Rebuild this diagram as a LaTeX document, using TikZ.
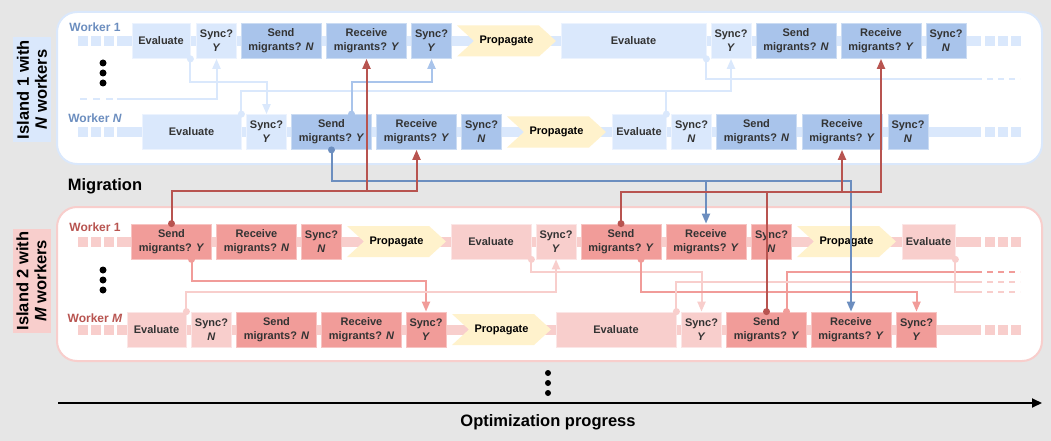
\documentclass[tikz,border=0pt]{standalone}
\usepackage{fontspec}
\setmainfont{Liberation Sans}
\usetikzlibrary{arrows.meta}

\definecolor{bggray}{HTML}{E6E6E6}
\definecolor{bluelt}{HTML}{DAE8FC}
\definecolor{bluemd}{HTML}{A9C4EB}
\definecolor{bluedk}{HTML}{6C8EBF}
\definecolor{pinklt}{HTML}{F8CECC}
\definecolor{pinkmd}{HTML}{F19C99}
\definecolor{reddk}{HTML}{B85450}
\definecolor{proplt}{HTML}{FFF2CC}
\definecolor{txtgray}{HTML}{333333}

\newcommand\boxfont{\fontsize{11}{14}\selectfont\bfseries}
\newcommand\bigfont{\fontsize{16.5}{18}\selectfont\bfseries}
\newcommand\wfont{\fontsize{12}{14}\selectfont\bfseries}

\tikzset{
  box/.style={rectangle, inner sep=0pt, align=center, font=\boxfont, text=txtgray,
    minimum height=35pt, line width=0.8pt},
  wd/.style={minimum width=#1},
  blt/.style={box, fill=bluelt, draw=white!50!bluelt},
  bmd/.style={box, fill=bluemd, draw=white!40!bluemd},
  plt/.style={box, fill=pinklt, draw=white!50!pinklt},
  pmd/.style={box, fill=pinkmd, draw=white!40!pinkmd},
  prop/.style={rectangle, inner sep=0pt, minimum width=99pt, minimum height=31pt,
    font=\boxfont, text=black,
    path picture={\fill[proplt] (path picture bounding box.north west)
      -- ([xshift=-17pt]path picture bounding box.north east)
      -- (path picture bounding box.east)
      -- ([xshift=-17pt]path picture bounding box.south east)
      -- (path picture bounding box.south west)
      -- ([xshift=17pt]path picture bounding box.west) -- cycle;}},
  islab/.style={rotate=90, align=center, font=\bigfont, minimum height=38pt, inner sep=0pt},
  wlab/.style={font=\wfont, inner sep=0pt},
  conn/.style={line width=2pt, -{Triangle[width=8pt,length=10pt]}},
  lbl/.style={conn, draw=bluelt},
  mbl/.style={conn, draw=bluemd},
  bdl/.style={conn, draw=bluedk},
  rdl/.style={conn, draw=reddk},
  lpl/.style={conn, draw=pinklt},
  mpl/.style={conn, draw=pinkmd},
  gap/.style={dash pattern=on 6pt off 5pt, -}
}

\begin{document}
\begin{tikzpicture}[x=1pt, y=-1pt]

\newcommand\rowA{41}
\newcommand\rowB{132}
\newcommand\rowC{241.5}
\newcommand\rowD{329.5}

% background and islands
\fill[bggray] (0,0) rectangle (1051,441);
\draw[bluelt, line width=2pt, fill=white, rounded corners=20pt] (57,12) rectangle (1042,164);
\draw[pinklt, line width=2pt, fill=white, rounded corners=20pt] (57,207) rectangle (1042,361);

\node[islab, fill=bluelt, minimum width=105pt] (isl1) at (32,89.5) {Island 1 with\\\textit{N} workers};
\node[islab, fill=pinklt, minimum width=104pt] (isl2) at (31.5,281) {Island 2 with\\\textit{M} workers};

\node[wlab, text=bluedk] (wa) at (95,27) {Worker 1};
\node[wlab, text=bluedk] (wb) at (95,118) {Worker \textit{N}};
\node[wlab, text=reddk] (wc) at (95,227) {Worker 1};
\node[wlab, text=reddk] (wd) at (95,318.5) {Worker \textit{M}};

\foreach \dy in {63,73,83,270,280,290}
  \fill (103,\dy) circle (3.5pt);

% worker tracks
\foreach \ry/\rc in {\rowA/bluelt, \rowB/bluelt, \rowC/pinklt, \rowD/pinklt} {
  \fill[\rc] (117,\ry-5) rectangle (981,\ry+5);
  \foreach \sx in {78,91,104,985,998,1011}
    \fill[\rc] (\sx,\ry-5) rectangle ++(10,10);
}

% free ends
\coordinate (bfar) at (80,99);
\coordinate (bin) at (117,99);
\coordinate (eend) at (982,79);
\coordinate (p5end) at (982,272);
\coordinate (p6end) at (982,292);
\coordinate (p7end) at (982,282);

% island 1, worker 1
\node[blt, wd=58pt] (a1) at (161,\rowA) {Evaluate};
\node[blt, wd=40pt] (a2) at (216.5,\rowA) {Sync?\\\textit{Y}};
\node[bmd, wd=80pt] (a3) at (281,\rowA) {Send\\migrants? \textit{N}};
\node[bmd, wd=80pt] (a4) at (366.5,\rowA) {Receive\\migrants? \textit{Y}};
\node[bmd, wd=40pt] (a5) at (431.5,\rowA) {Sync?\\\textit{Y}};
\node[prop] (a6) at (506.5,\rowA) {Propagate};
\node[blt, wd=145pt] (a7) at (633.5,\rowA) {Evaluate};
\node[blt, wd=40pt] (a8) at (731,\rowA) {Sync?\\\textit{Y}};
\node[bmd, wd=80pt] (a9) at (796,\rowA) {Send\\migrants? \textit{N}};
\node[bmd, wd=80pt] (a10) at (881,\rowA) {Receive\\migrants? \textit{Y}};
\node[bmd, wd=40pt] (a11) at (946,\rowA) {Sync?\\\textit{N}};

% island 1, worker N
\node[blt, wd=99pt] (b1) at (191.5,\rowB) {Evaluate};
\node[blt, wd=40pt] (b2) at (266.5,\rowB) {Sync?\\\textit{Y}};
\node[bmd, wd=80pt] (b3) at (331.5,\rowB) {Send\\migrants? \textit{Y}};
\node[bmd, wd=80pt] (b4) at (416.5,\rowB) {Receive\\migrants? \textit{Y}};
\node[bmd, wd=40pt] (b5) at (481.5,\rowB) {Sync?\\\textit{N}};
\node[prop] (b6) at (556.5,\rowB) {Propagate};
\node[blt, wd=54pt] (b7) at (639,\rowB) {Evaluate};
\node[blt, wd=40pt] (b8) at (691.5,\rowB) {Sync?\\\textit{N}};
\node[bmd, wd=80pt] (b9) at (756.5,\rowB) {Send\\migrants? \textit{N}};
\node[bmd, wd=80pt] (b10) at (842,\rowB) {Receive\\migrants? \textit{Y}};
\node[bmd, wd=40pt] (b11) at (908,\rowB) {Sync?\\\textit{N}};

% island 2, worker 1
\node[pmd, wd=80pt] (c1) at (171.5,\rowC) {Send\\migrants? \textit{Y}};
\node[pmd, wd=80pt] (c2) at (256.5,\rowC) {Receive\\migrants? \textit{N}};
\node[pmd, wd=40pt] (c3) at (321.5,\rowC) {Sync?\\\textit{N}};
\node[prop] (c4) at (396.5,\rowC) {Propagate};
\node[plt, wd=80pt] (c5) at (491,\rowC) {Evaluate};
\node[plt, wd=40pt] (c6) at (556,\rowC) {Sync?\\\textit{Y}};
\node[pmd, wd=80pt] (c7) at (621,\rowC) {Send\\migrants? \textit{Y}};
\node[pmd, wd=80pt] (c8) at (706,\rowC) {Receive\\migrants? \textit{Y}};
\node[pmd, wd=40pt] (c9) at (771.5,\rowC) {Sync?\\\textit{N}};
\node[prop] (c10) at (846.5,\rowC) {Propagate};
\node[plt, wd=53pt] (c11) at (928.5,\rowC) {Evaluate};

% island 2, worker M
\node[plt, wd=59pt] (d1) at (156.5,\rowD) {Evaluate};
\node[plt, wd=40pt] (d2) at (211.5,\rowD) {Sync?\\\textit{N}};
\node[pmd, wd=80pt] (d3) at (276.5,\rowD) {Send\\migrants? \textit{N}};
\node[pmd, wd=80pt] (d4) at (361.5,\rowD) {Receive\\migrants? \textit{N}};
\node[pmd, wd=40pt] (d5) at (426,\rowD) {Sync?\\\textit{Y}};
\node[prop] (d6) at (501.5,\rowD) {Propagate};
\node[plt, wd=120pt] (d7) at (616,\rowD) {Evaluate};
\node[plt, wd=40pt] (d8) at (701.5,\rowD) {Sync?\\\textit{Y}};
\node[pmd, wd=80pt] (d9) at (766.5,\rowD) {Send\\migrants? \textit{Y}};
\node[pmd, wd=80pt] (d10) at (851,\rowD) {Receive\\migrants? \textit{Y}};
\node[pmd, wd=40pt] (d11) at (916.5,\rowD) {Sync?\\\textit{Y}};

% sync inside island 1
\draw[lbl] (a1.south east) -- ++(0,23) -| (b2.north);
\draw[lbl, dash pattern=on 7pt off 6pt, -] (bfar) -- ([xshift=-4pt]bin);
\draw[lbl] (bin) -| (a2.south);
\draw[lbl] (b1.north east) -- ++(0,-23.5) -| (a8.south);
\draw[lbl, -] (b7.north east) -- ++(0,-23.5);
\draw[mbl] ([xshift=20pt]b3.north) -- ++(0,-32.5) -| (a5.south);
\draw[lbl, -] (a7.south east) |- (eend);
\draw[lbl, gap] ([xshift=5pt]eend) -- ++(33,0);

% sync inside island 2
\draw[mpl] ([xshift=20pt]c1.south) -- ++(0,22) -| (d5.north);
\draw[lpl] (d1.north east) -- ++(0,-20) -| (c6.south);
\draw[lpl] (c5.south east) -- ++(0,13) -| (d8.north);
\draw[mpl] ([xshift=20pt]c7.south) -- ++(0,33) -| (d11.north);
\draw[mpl, -] ([xshift=20pt]d9.north) |- (p5end);
\draw[lpl, -] (c11.south east) |- (p6end);
\draw[lpl, -] (d7.north east) |- (p7end);
\draw[mpl, gap] ([xshift=5pt]p5end) -- ++(33,0);
\draw[lpl, gap] ([xshift=5pt]p6end) -- ++(33,0);
\draw[lpl, gap] ([xshift=5pt]p7end) -- ++(33,0);

% migration
\draw[bdl] (b3.south) -- ++(0,31.5) coordinate (bbus) -| (d10.north);
\draw[bdl] (bbus -| c8.north) -- (c8.north);
\draw[rdl] (c1.north) -- ++(0,-32.5) coordinate (rbus) -| (b4.south);
\draw[rdl] (rbus -| a4.south) -- (a4.south);
\draw[rdl] (c7.north) -- ++(0,-32) coordinate (rbus2) -| (b10.south);
\draw[rdl] (d9.north) |- (rbus2 -| a10.south) -- (a10.south);

% dots
\foreach \p in {a1.south east, b1.north east, b7.north east, a7.south east}
  \fill[bluelt] (\p) circle (3.5pt);
\fill[bluemd] ([xshift=20pt]b3.north) circle (3.5pt);
\fill[bluedk] (b3.south) circle (3.5pt);
\foreach \p in {c1.north, c7.north, d9.north}
  \fill[reddk] (\p) circle (3.5pt);
\fill[pinkmd] ([xshift=20pt]c1.south) circle (3.5pt);
\fill[pinkmd] ([xshift=20pt]c7.south) circle (3.5pt);
\fill[pinkmd] ([xshift=20pt]d9.north) circle (3.5pt);
\foreach \p in {d1.north east, c5.south east, c11.south east, d7.north east}
  \fill[pinklt] (\p) circle (3.5pt);

\node[font=\bigfont] (mig) at (105,186) {Migration};

% progress axis
\foreach \dy in {373,383,393}
  \fill (548,\dy) circle (3pt);
\coordinate (tstart) at (58,403);
\coordinate (tend) at (1042,403);
\draw[line width=1.8pt, -{Triangle[width=9pt,length=10pt]}] (tstart) -- (tend);
\node[font=\bigfont] (prog) at (548,422) {Optimization progress};

\end{tikzpicture}
\end{document}
